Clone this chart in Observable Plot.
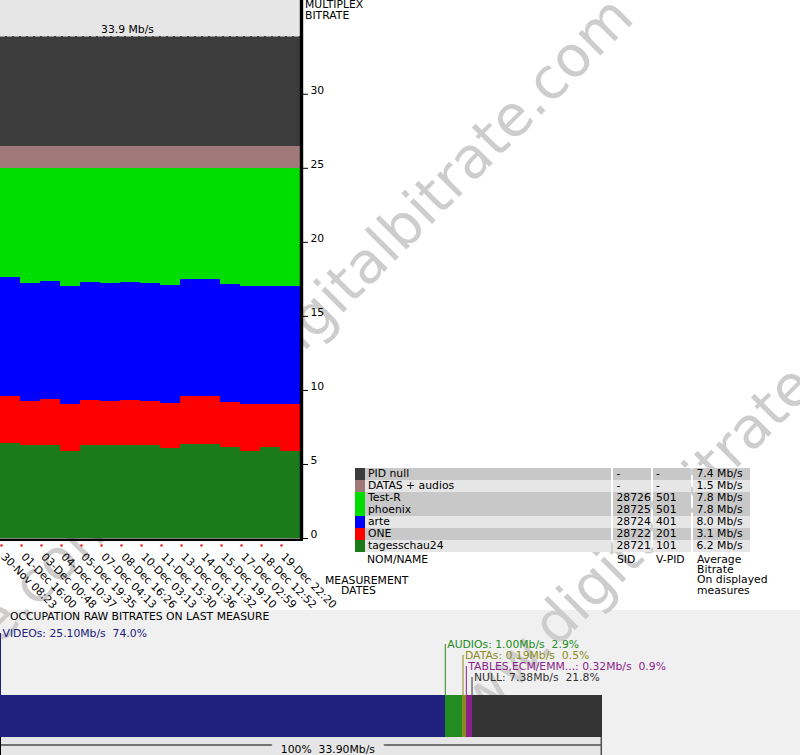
<!DOCTYPE html>
<html><head><meta charset="utf-8">
<script src="https://cdn.jsdelivr.net/npm/d3@7"></script>
<script src="https://cdn.jsdelivr.net/npm/@observablehq/plot@0.6"></script>
<style>
html,body{margin:0;padding:0;background:#fff;}
#root{position:relative;width:800px;height:755px;overflow:hidden;font-family:"DejaVu Sans",sans-serif;font-size:10.8px;color:#000;}
.abs{position:absolute;white-space:pre;}
#bottomBg{position:absolute;left:0;top:610px;width:800px;height:145px;background:#f0f0f0;}
.cell{position:absolute;height:12px;line-height:12px;box-sizing:border-box;white-space:pre;overflow:hidden;}
</style></head><body><div id="root"><div id="bottomBg"></div></div>
<script>
// ---------- DATA ----------
const dates = ["30-Nov 08:23","01-Dec 16:00","03-Dec 00:48","04-Dec 10:37","05-Dec 19:35","07-Dec 04:13","08-Dec 16:26","10-Dec 03:13","11-Dec 15:30","13-Dec 01:36","14-Dec 11:32","15-Dec 19:10","17-Dec 02:59","18-Dec 12:52","19-Dec 22:20"];
const total = 33.9;
const yTicks = [0, 5, 10, 15, 20, 25, 30];

// stacked series, bottom to top (Mb/s per measurement period)
const tagesschau24 = [6.43, 6.28, 6.28, 5.87, 6.28, 6.28, 6.28, 6.28, 6.06, 6.36, 6.36, 6.16, 5.87, 6.16, 5.87];
const one          = [3.18, 2.95, 3.11, 3.18, 3.02, 2.95, 3.02, 2.95, 3.06, 3.21, 3.21, 3.02, 3.18, 2.89, 3.18];
const arte         = [7.99, 7.99, 7.96, 7.99, 7.99, 7.99, 7.99, 7.99, 7.96, 7.94, 7.94, 7.97, 7.99, 7.99, 7.99];
const phoenix      = [7.40, 7.78, 7.65, 7.96, 7.71, 7.78, 7.71, 7.78, 7.92, 7.49, 7.49, 7.85, 7.96, 7.96, 7.96];
const datasAudios  = [1.47, 1.47, 1.47, 1.47, 1.47, 1.47, 1.47, 1.47, 1.47, 1.47, 1.47, 1.47, 1.47, 1.47, 1.47];
const pidNull      = [7.43, 7.43, 7.43, 7.43, 7.43, 7.43, 7.43, 7.43, 7.43, 7.43, 7.43, 7.43, 7.43, 7.43, 7.43];
const stackNames  = ["tagesschau24", "ONE", "arte", "phoenix", "DATAS + audios", "PID null"];
const stackValues = [tagesschau24, one, arte, phoenix, datasAudios, pidNull];
const stackColors = ["#1b7b1b", "#ff0000", "#0000ff", "#00dd00", "#a07a78", "#3c3c3c"];

// legend table
const legNames  = ["PID null", "DATAS + audios", "Test-R", "phoenix", "arte", "ONE", "tagesschau24"];
const legSid    = ["-", "-", "28726", "28725", "28724", "28722", "28721"];
const legVpid   = ["-", "-", "501", "501", "401", "201", "101"];
const legAvg    = ["7.4 Mb/s", "1.5 Mb/s", "7.8 Mb/s", "7.8 Mb/s", "8.0 Mb/s", "3.1 Mb/s", "6.2 Mb/s"];
const legColors = ["#3c3c3c", "#a07a78", "#00dd00", "#00dd00", "#0000ff", "#ff0000", "#1b7b1b"];

// occupation on last measure
const occNames  = ["VIDEOs", "AUDIOs", "DATAs", "TABLES,ECM/EMM...", "NULL"];
const occValues = [25.10, 1.00, 0.19, 0.32, 7.38];
const occPct    = ["74.0%", "2.9%", "0.5%", "0.9%", "21.8%"];
const occColors = ["#20207f", "#228b22", "#8b8b22", "#8b228b", "#333333"];
const muxTotal  = 33.90;

// ---------- BUILD ----------
const root = document.getElementById("root");
const FONT = "DejaVu Sans";
const FS = 10.8;

// watermark (under everything else)
const wm = d3.select(root).append("svg").attr("width", 800).attr("height", 755)
  .style("position", "absolute").style("left", 0).style("top", 0);
[[636, 20], [915, 290], [122, 523]].forEach(([x, y]) => {
  wm.append("text").attr("transform", `translate(${x},${y}) rotate(-45)`)
    .attr("text-anchor", "end").attr("font-family", FONT).attr("font-size", 57)
    .attr("fill", "#cdcdcd").text("www.digitalbitrate.com");
});

const rows = [];
stackNames.forEach((s, k) => {
  stackValues[k].forEach((v, i) => rows.push({i, value: v, series: s}));
});
// close the last step
stackNames.forEach((s, k) => rows.push({i: dates.length, value: stackValues[k][dates.length - 1], series: s}));

const N = dates.length;
const main = Plot.plot({
  width: 800, height: 610,
  marginLeft: 0, marginRight: 500, marginTop: 0, marginBottom: 72,
  x: {domain: [0, N], axis: null},
  y: {domain: [0, 36.33], axis: null},
  color: {domain: stackNames, range: stackColors},
  style: {background: "transparent", fontFamily: FONT, fontSize: FS + "px", overflow: "visible"},
  marks: [
    Plot.rect([total], {x1: 0, x2: N, y1: d => d, y2: 36.33, fill: "#e6e6e6"}),
    Plot.areaY(rows, {x: "i", y: "value", fill: "series", curve: "step-after", shapeRendering: "crispEdges"}),
    Plot.ruleY([total], {x1: 0, x2: N, stroke: "#9a9a9a", strokeDasharray: "5,2"}),
    Plot.text([total], {frameAnchor: "top-left", dx: 127, dy: 25, text: d => `${d} Mb/s`, textAnchor: "middle", fontSize: FS, fill: "#000"}),
    Plot.ruleX([N], {stroke: "black", strokeWidth: 3.4, dx: 1}),
    Plot.ruleY([0], {x1: 0, x2: N + 0.15, stroke: "black", strokeWidth: 2.5, dy: 1.2}),
    Plot.ruleY(yTicks, {y: d => d, x1: N, x2: N + 0.4, stroke: "black"}),
    Plot.text(yTicks, {x: N, y: d => d, text: d => String(d), dx: 10, dy: -4, textAnchor: "start", fontSize: FS, fill: "#000"}),
    Plot.dot(dates, {x: (d, i) => i, frameAnchor: "bottom", dx: 1, dy: 7, symbol: "square", r: 1.2, fill: "red", stroke: null}),
    Plot.text(dates, {x: (d, i) => i, frameAnchor: "bottom", text: d => d, rotate: 45, textAnchor: "start", lineAnchor: "middle", dx: 2.5, dy: 16.5, fontSize: FS, fill: "#000"})
  ]
});
main.style.position = "absolute"; main.style.left = "0px"; main.style.top = "0px";
root.appendChild(main);

// text overlays
function addText(txt, left, top, extra = "") {
  const d = document.createElement("div");
  d.className = "abs";
  d.style.left = left + "px"; d.style.top = top + "px";
  d.style.cssText += extra;
  d.innerHTML = txt;
  root.appendChild(d);
  return d;
}
addText("MULTIPLEX<br>BITRATE", 305, 0, "line-height:10.5px;");
addText("MEASUREMENT", 325, 575, "line-height:11px;");
addText("DATES", 341, 585, "line-height:11px;");

// legend table
legNames.forEach((name, r) => {
  // alternate shading per colour group
  let g = 0;
  for (let j = 1; j <= r; j++) if (legColors[j] !== legColors[j - 1]) g++;
  const bg = g % 2 === 0 ? "#c8c8c8" : "#e6e6e6";
  const top = 468 + 12 * r;
  const cells = [
    {left: 355, width: 10, bg: legColors[r], text: ""},
    {left: 365, width: 246, bg, text: name, pad: 3},
    {left: 613, width: 38, bg, text: legSid[r], pad: 3.5},
    {left: 653, width: 38, bg, text: legVpid[r], pad: 3},
    {left: 693, width: 57, bg, text: legAvg[r], pad: 3.5}
  ];
  cells.forEach(c => {
    const d = document.createElement("div");
    d.className = "cell";
    d.style.left = c.left + "px"; d.style.top = top + "px";
    d.style.width = c.width + "px"; d.style.background = c.bg;
    d.style.paddingLeft = (c.pad || 0) + "px";
    d.textContent = c.text;
    root.appendChild(d);
  });
});
addText("NOM/NAME", 367, 555, "line-height:10px;");
addText("SID", 617, 555, "line-height:10px;");
addText("V-PID", 656, 555, "line-height:10px;");
addText("Average<br>Bitrate<br>On displayed<br>measures", 697, 555, "line-height:10.2px;");

addText("OCCUPATION RAW BITRATES ON LAST MEASURE", 10, 611, "line-height:11px;");

// bottom occupation bar
const occ = occNames.map((n, k) => ({name: n, value: occValues[k], pct: occPct[k], color: occColors[k]}));
const starts = d3.cumsum([0, ...occValues]).slice(0, occValues.length);
const nb = "\u00a0";
const bottomMarks = [
  Plot.rect([muxTotal], {x1: 0, x2: d => d, fill: "#e6e6e6", insetTop: 127}),
  Plot.rect([muxTotal], {x1: 0, x2: d => d, fill: "black", insetTop: 134.5, insetBottom: 9.5}),
  Plot.text([muxTotal], {x: d => d / 2, frameAnchor: "top", dx: 27, dy: 135, text: d => `100%${nb}${nb}${d.toFixed(2)}Mb/s`,
    fill: "#000", stroke: "#e6e6e6", strokeWidth: 20, paintOrder: "stroke", fontSize: FS}),
  Plot.ruleX([0, muxTotal], {x: d => d, stroke: "black", insetTop: 127}),
  Plot.barX(occ, {x: "value", fill: "name", insetTop: 85, insetBottom: 18, shapeRendering: "crispEdges"})
];
occ.forEach((d, k) => {
  bottomMarks.push(Plot.ruleX([starts[k]], {x: v => v, stroke: d.color, insetTop: 23 + 11 * k, insetBottom: 60}));
  bottomMarks.push(Plot.text([starts[k]], {x: v => v, frameAnchor: "top", dx: 2, dy: 19 + 11 * k, textAnchor: "start",
    text: () => `${d.name}:${nb}${d.value.toFixed(2)}Mb/s${nb}${nb}${d.pct}`, fill: d.color, fontSize: FS}));
});
const bottom = Plot.plot({
  width: 800, height: 145,
  marginLeft: 0, marginRight: 199.3, marginTop: 0, marginBottom: 0,
  x: {domain: [0, muxTotal], axis: null},
  color: {domain: occNames, range: occColors},
  style: {background: "transparent", fontFamily: FONT, fontSize: FS + "px", overflow: "visible"},
  marks: bottomMarks
});
bottom.style.position = "absolute"; bottom.style.left = "0px"; bottom.style.top = "610px";
root.appendChild(bottom);
</script></body></html>
